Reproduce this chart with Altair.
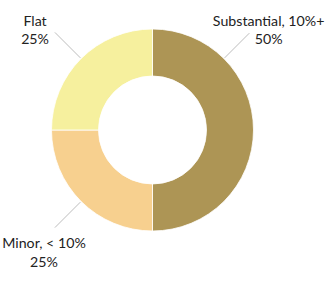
import math
import altair as alt
import pandas as pd

# ---- data ----
categories = ["Substantial, 10%+", "Minor, < 10%", "Flat"]
shares = [50, 25, 25]
colors = ["#ad9555", "#f7d08f", "#f6f09e"]

df = pd.DataFrame({"category": categories, "share": shares, "order": list(range(len(categories)))})
df["label"] = [[c, f"{s}%"] for c, s in zip(categories, shares)]

# ---- layout (styles, not data) ----
W, H = 305, 260
CX, CY = W / 2, H / 2
R_IN, R_OUT = 54, 101
# label placement of the first line: (angle deg clockwise from 12 o'clock, radius px)
label_pos = {"Substantial, 10%+": (47.0, 158.8), "Minor, < 10%": (223.5, 157.6), "Flat": (312.7, 159.8)}
# leader lines: angle, r_start, r_end
leader = {"Substantial, 10%+": (45, 102, 137), "Minor, < 10%": (225, 102, 138), "Flat": (315, 102, 138)}

FONT = "Lato"

arcs = alt.Chart(df).mark_arc(
    innerRadius=R_IN, outerRadius=R_OUT, stroke="white", strokeWidth=0.8
).encode(
    theta=alt.Theta("share:Q", stack=True),
    color=alt.Color("category:N", scale=alt.Scale(domain=categories, range=colors), legend=None),
    order=alt.Order("order:Q"),
)

layers = [arcs]
for cat in categories:
    a, r = label_pos[cat]
    layers.append(
        alt.Chart(df).transform_filter(alt.datum.category == cat).mark_text(
            font=FONT, fontSize=14.2, color="#222222", align="center", baseline="middle", lineHeight=18.5
        ).encode(
            text=alt.Text("label"),
            theta=alt.value(math.radians(a)),
            radius=alt.value(r),
        )
    )
    la, r1, r2 = leader[cat]
    t = math.radians(la)
    layers.append(
        alt.Chart(df).transform_filter(alt.datum.category == cat).mark_rule(
            color="#bdbdbd", strokeWidth=1
        ).encode(
            x=alt.value(CX + r1 * math.sin(t)),
            y=alt.value(CY - r1 * math.cos(t)),
            x2=alt.value(CX + r2 * math.sin(t)),
            y2=alt.value(CY - r2 * math.cos(t)),
        )
    )

chart = alt.layer(*layers).properties(
    width=W, height=H,
    autosize=alt.AutoSizeParams(type="none"),
    padding={"left": 0, "top": 0, "right": 333 - W, "bottom": 285 - H},
).configure_view(stroke=None)

chart.save("out.html", embed_options={"renderer": "svg", "actions": False})
